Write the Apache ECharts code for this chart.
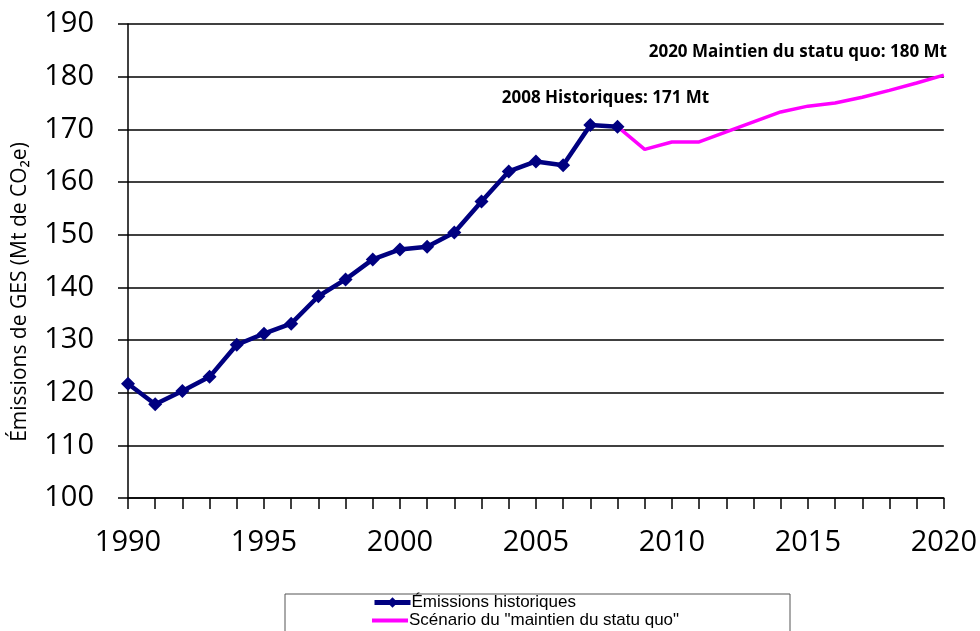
<!DOCTYPE html>
<html><head><meta charset="utf-8">
<script src="https://cdn.jsdelivr.net/npm/echarts@6/dist/echarts.min.js"></script>
<style>html,body{margin:0;padding:0;background:#fff}#c{width:980px;height:631px}</style>
</head><body><div id="c"></div>
<script>
const years = [];
for (let y = 1990; y <= 2020; y++) years.push(String(y));
const historique = [121.7,117.8,120.3,123.0,129.1,131.2,133.1,138.3,141.5,145.3,147.2,147.7,150.4,156.3,162.0,163.9,163.2,170.8,170.5];
const scenario = [170.5,166.2,167.6,167.6,169.5,171.4,173.3,174.4,175.0,176.1,177.4,178.8,180.3];
const seriesNames = ['Émissions historiques', 'Scénario du "maintien du statu quo"'];
const yTicks = {min:100, max:190, interval:10};
const annotations = ['2008 Historiques: 171 Mt', '2020 Maintien du statu quo: 180 Mt'];
const yTitle = 'Émissions de GES (Mt de CO₂e)';

const histData = years.map((y,i)=> i < historique.length ? historique[i] : null);
const scenData = years.map((y,i)=> { const k = i - (2008-1990); return k >= 0 ? scenario[k] : null; });

const chart = echarts.init(document.getElementById('c'), null, {renderer:'canvas'});
const labelFont = {fontFamily:'Open Sans', fontSize:29, color:'#000'};
const legendText = {fontFamily:'Liberation Sans', fontSize:17, color:'#000'};
chart.setOption({
  animation:false,
  backgroundColor:'#fff',
  grid:{left:128, right:36, top:24, bottom:133},
  xAxis:{
    type:'category', data:years, boundaryGap:false,
    axisLine:{lineStyle:{color:'#000', width:1.5}},
    axisTick:{show:true, interval:0, length:11, inside:false, lineStyle:{color:'#000', width:1.5}},
    axisLabel:Object.assign({interval:4, margin:30}, labelFont),
    splitLine:{show:false}
  },
  yAxis:{
    type:'value', min:yTicks.min, max:yTicks.max, interval:yTicks.interval,
    axisLine:{show:true, lineStyle:{color:'#000', width:1.5}},
    axisTick:{show:true, length:10, lineStyle:{color:'#000', width:1.5}},
    axisLabel:Object.assign({margin:34}, labelFont),
    splitLine:{show:true, lineStyle:{color:'#000', width:1.5}}
  },
  legend:[
    {
      left:372, top:594, itemGap:0, itemWidth:36, itemHeight:13, padding:0,
      lineStyle:{width:5},
      textStyle:Object.assign({padding:[0,0,0,-4]}, legendText),
      data:[seriesNames[0]]
    },
    {
      left:372, top:612, itemGap:0, itemWidth:36, itemHeight:13, padding:0,
      textStyle:Object.assign({padding:[0,0,0,-4]}, legendText),
      data:[{name:seriesNames[1], icon:'path://M0,5 L36,5 L36,9 L0,9 Z'}]
    }
  ],
  graphic:[
    {type:'rect', shape:{x:285, y:594, width:505, height:60}, style:{fill:'none', stroke:'#555', lineWidth:1}, z:-1},
    {type:'text', x:20, y:292, rotation:Math.PI/2, style:{text:yTitle, fontFamily:'Open Sans', fontSize:21, fill:'#000', align:'center', verticalAlign:'middle'}}
  ],
  series:[
    {
      name:seriesNames[0], type:'line', data:histData, z:3,
      symbol:'diamond', symbolSize:14, showAllSymbol:true,
      lineStyle:{color:'#000080', width:4.5},
      itemStyle:{color:'#000080'},
      markPoint:{
        symbol:'circle', symbolSize:0,
        label:{show:true, formatter:annotations[0], fontFamily:'Open Sans', fontWeight:'bold', fontSize:17, color:'#000', offset:[-12,-29]},
        data:[{coord:['2008', historique[historique.length-1]]}]
      }
    },
    {
      name:seriesNames[1], type:'line', data:scenData, z:2,
      symbol:'none', lineStyle:{color:'#FF00FF', width:3.5},
      itemStyle:{color:'#FF00FF'},
      markPoint:{
        symbol:'circle', symbolSize:0,
        label:{show:true, formatter:annotations[1], fontFamily:'Open Sans', fontWeight:'bold', fontSize:17, color:'#000', offset:[-146,-23]},
        data:[{coord:['2020', scenario[scenario.length-1]]}]
      }
    }
  ]
});
</script></body></html>
